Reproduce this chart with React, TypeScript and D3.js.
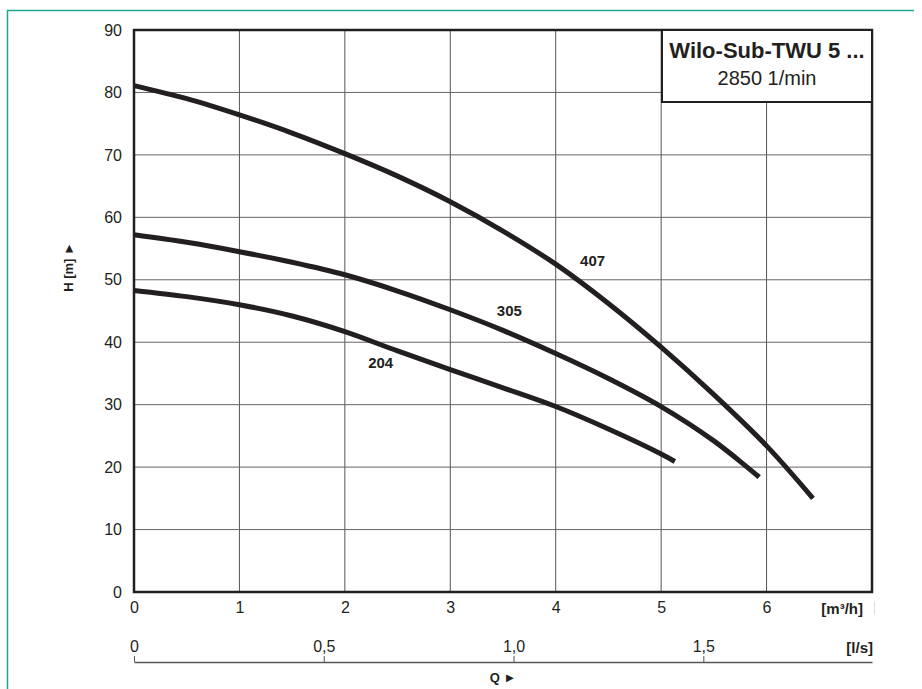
import React from "react";
import { select, scaleLinear, axisLeft, axisBottom, axisTop, line, curveCatmullRom, range } from "d3";

// Q [m³/h], H [m] per pump stage
const q407 = [0, 0.5, 1, 1.5, 2, 2.5, 3, 3.5, 4, 4.5, 5, 5.5, 6, 6.44];
const h407 = [81.1, 79, 76.4, 73.5, 70.2, 66.6, 62.5, 57.8, 52.5, 46.2, 39.2, 31.6, 23.4, 15];
const q305 = [0, 0.5, 1, 1.5, 2, 2.5, 3, 3.5, 4, 4.5, 5, 5.5, 5.93];
const h305 = [57.2, 56, 54.5, 52.8, 50.8, 48.2, 45.2, 41.9, 38.2, 34.2, 29.7, 24.2, 18.4];
const q204 = [0, 0.5, 1, 1.5, 2, 2.5, 3, 3.5, 4, 4.5, 5, 5.13];
const h204 = [48.3, 47.3, 46, 44.2, 41.7, 38.6, 35.6, 32.7, 29.7, 26.1, 22.1, 20.9];

const curveNames = ["407", "305", "204"];
// label anchor positions in data units
const labelQ = [4.35, 3.56, 2.34];
const labelH = [52.2, 44.2, 35.9];

const yTicks = range(0, 100, 10);
const xTicks = range(0, 7, 1);
const lsTicks = [0, 0.5, 1, 1.5];

const title = "Wilo-Sub-TWU 5 ...";
const subtitle = "2850 1/min";

const W = 922;
const H = 689;
const margin = { top: 30, right: 50, bottom: 97, left: 134 };
const font = "'Liberation Sans', Arial, Helvetica, sans-serif";
const ink = "#231f20";

export default function App() {
  const svgRef = React.useRef<SVGSVGElement>(null);

  React.useEffect(() => {
    const svg = select(svgRef.current);
    svg.selectAll("*").remove();

    const x = scaleLinear().domain([0, 7]).range([margin.left, W - margin.right]);
    const y = scaleLinear().domain([0, 90]).range([H - margin.bottom, margin.top]);
    const xl = scaleLinear().domain([0, 7 / 3.6]).range([margin.left, W - margin.right]);

    const x0 = margin.left, x1 = W - margin.right;
    const y0 = H - margin.bottom, y1 = margin.top;

    // green frame
    svg.append("path")
      .attr("d", `M7.5,${H} L7.5,10.5 L914,10.5`)
      .attr("fill", "none")
      .attr("stroke", "#19a98b")
      .attr("stroke-width", 1.5);

    // grid
    const grid = svg.append("g");
    grid.selectAll("line.v")
      .data(xTicks.slice(1))
      .join("line")
      .attr("x1", (d) => x(d)).attr("x2", (d) => x(d))
      .attr("y1", y1).attr("y2", y0)
      .attr("stroke", "#555").attr("stroke-width", 1);
    grid.selectAll("line.h")
      .data(yTicks.slice(1, -1))
      .join("line")
      .attr("x1", x0).attr("x2", x1)
      .attr("y1", (d) => y(d)).attr("y2", (d) => y(d))
      .attr("stroke", "#666").attr("stroke-width", 1);

    // curves
    const series = [
      q407.map((q, i) => [q, h407[i]] as [number, number]),
      q305.map((q, i) => [q, h305[i]] as [number, number]),
      q204.map((q, i) => [q, h204[i]] as [number, number]),
    ];
    const lineGen = line<[number, number]>()
      .x((d) => x(d[0]))
      .y((d) => y(d[1]))
      .curve(curveCatmullRom.alpha(0.5));
    svg.append("g")
      .selectAll("path")
      .data(series)
      .join("path")
      .attr("d", (d) => lineGen(d))
      .attr("fill", "none")
      .attr("stroke", ink)
      .attr("stroke-width", 5)
      .attr("stroke-linecap", "butt");

    svg.append("g")
      .selectAll("text")
      .data(curveNames)
      .join("text")
      .attr("x", (_, i) => x(labelQ[i]))
      .attr("y", (_, i) => y(labelH[i]))
      .attr("text-anchor", "middle")
      .attr("font-family", font)
      .attr("font-weight", "bold")
      .attr("font-size", 15)
      .attr("fill", ink)
      .text((d) => d);

    // frame of plot
    svg.append("rect")
      .attr("x", x0).attr("y", y1)
      .attr("width", x1 - x0).attr("height", y0 - y1)
      .attr("fill", "none")
      .attr("stroke", ink)
      .attr("stroke-width", 2.5);

    // title box
    svg.append("rect")
      .attr("x", 662).attr("y", y1)
      .attr("width", x1 - 662).attr("height", 72)
      .attr("fill", "#fff")
      .attr("stroke", ink)
      .attr("stroke-width", 2);
    svg.append("text")
      .attr("x", 767).attr("y", 58)
      .attr("text-anchor", "middle")
      .attr("font-family", font).attr("font-weight", "bold").attr("font-size", 22)
      .attr("fill", ink)
      .text(title);
    svg.append("text")
      .attr("x", 767).attr("y", 85)
      .attr("text-anchor", "middle")
      .attr("font-family", font).attr("font-size", 20)
      .attr("fill", ink)
      .text(subtitle);

    // y axis
    const gy = svg.append("g")
      .attr("transform", `translate(${x0},0)`)
      .call(axisLeft(y).tickValues(yTicks).tickSize(0).tickPadding(12));
    gy.select(".domain").remove();
    gy.selectAll("text")
      .attr("font-family", font).attr("font-size", 16).attr("fill", ink);

    // x axis m³/h
    const gx = svg.append("g")
      .attr("transform", `translate(0,${y0})`)
      .call(axisBottom(x).tickValues(xTicks).tickSize(0).tickPadding(10).tickFormat((d) => String(d)));
    gx.select(".domain").remove();
    gx.selectAll("text")
      .attr("font-family", font).attr("font-size", 16).attr("fill", ink);

    svg.append("text")
      .attr("x", 863).attr("y", 614)
      .attr("text-anchor", "end")
      .attr("font-family", font).attr("font-weight", "bold").attr("font-size", 15)
      .attr("fill", ink)
      .text("[m³/h]");
    svg.append("line")
      .attr("x1", 874.5).attr("x2", 874.5)
      .attr("y1", 601).attr("y2", 615)
      .attr("stroke", "#ddd");

    // x axis l/s
    const gl = svg.append("g")
      .attr("transform", `translate(0,662)`)
      .call(
        axisTop(xl)
          .tickValues(lsTicks)
          .tickSize(6)
          .tickSizeOuter(0)
          .tickPadding(4)
          .tickFormat((d) => (+d === 0 ? "0" : (+d).toFixed(1).replace(".", ",")))
      );
    gl.select(".domain").attr("stroke", "#555").attr("stroke-width", 1.5);
    gl.selectAll(".tick line").attr("stroke", "#555");
    gl.selectAll("text")
      .attr("font-family", font).attr("font-size", 16).attr("fill", ink);

    svg.append("text")
      .attr("x", 873).attr("y", 653)
      .attr("text-anchor", "end")
      .attr("font-family", font).attr("font-weight", "bold").attr("font-size", 15)
      .attr("fill", ink)
      .text("[l/s]");

    // axis titles
    svg.append("text")
      .attr("x", (x0 + x1) / 2).attr("y", 682)
      .attr("text-anchor", "middle")
      .attr("font-family", font).attr("font-weight", "bold").attr("font-size", 13)
      .attr("fill", ink)
      .text("Q ►");
    svg.append("text")
      .attr("transform", `translate(73,267) rotate(-90)`)
      .attr("text-anchor", "middle")
      .attr("font-family", font).attr("font-weight", "bold").attr("font-size", 13)
      .attr("fill", ink)
      .text("H [m] ►");

    return () => {
      svg.selectAll("*").remove();
    };
  }, []);

  return (
    <svg
      ref={svgRef}
      width={W}
      height={H}
      style={{ position: "absolute", left: 0, top: 0, background: "#fff" }}
    />
  );
}
